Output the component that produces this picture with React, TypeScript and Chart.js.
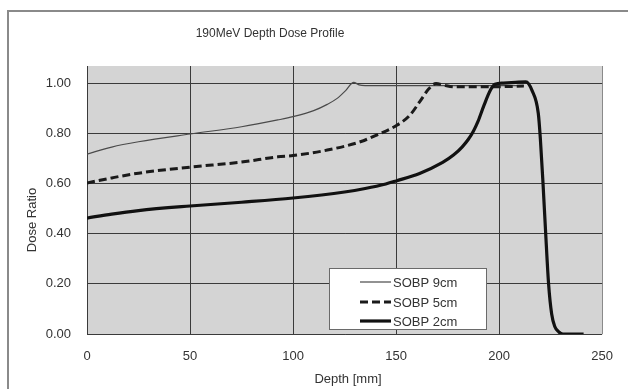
import React, { useEffect, useRef } from "react";
import { Chart, registerables } from "chart.js";

Chart.register(...registerables);

const TITLE = "190MeV Depth Dose Profile";
const X_TITLE = "Depth [mm]";
const Y_TITLE = "Dose Ratio";
const SERIES_NAMES = ["SOBP 9cm", "SOBP 5cm", "SOBP 2cm"];

const X_TICKS = [0, 50, 100, 150, 200, 250];
const Y_TICKS = [0, 0.2, 0.4, 0.6, 0.8, 1.0];

// SOBP 9cm (thin line)
const depth9 = [0, 12, 25, 50, 75, 92.6, 100, 110, 116.6, 121.4, 125.5, 129.4, 132, 135, 160, 180, 200, 212];
const dose9 = [0.717, 0.745, 0.766, 0.797, 0.826, 0.853, 0.866, 0.89, 0.915, 0.939, 0.97, 1.003, 0.993, 0.99, 0.99, 0.99, 0.99, 0.99];

// SOBP 5cm (dashed line)
const depth5 = [0, 12, 25, 50, 75, 92.6, 100, 116.6, 132.6, 140.6, 150, 156.6, 161.5, 166, 169.4, 173, 178, 196, 212];
const dose5 = [0.602, 0.622, 0.641, 0.665, 0.685, 0.706, 0.711, 0.733, 0.766, 0.793, 0.83, 0.871, 0.926, 0.978, 0.998, 0.992, 0.985, 0.985, 0.988];

// SOBP 2cm (thick line)
const depth2 = [0, 12, 25, 50, 75, 100, 125, 135, 145, 150, 161.4, 172.6, 178, 182, 185, 187.5, 189.8, 192.6, 195.8, 198, 202, 208, 213, 216, 219, 220, 221.3, 222.6, 224, 225.5, 227, 229, 231, 241];
const dose2 = [0.462, 0.478, 0.492, 0.51, 0.525, 0.542, 0.566, 0.58, 0.598, 0.61, 0.64, 0.684, 0.714, 0.745, 0.775, 0.808, 0.848, 0.91, 0.972, 0.995, 1.0, 1.003, 1.005, 0.97, 0.88, 0.78, 0.6, 0.4, 0.2, 0.08, 0.03, 0.008, 0.0, 0.0];

const FONT = "'Liberation Sans', Arial, sans-serif";
const TEXT_COLOR = "#333333";
const GRID_COLOR = "#3a3a3a";
const PLOT_BG = "#d4d4d4";

const toPoints = (xs: number[], ys: number[]) => xs.map((x, i) => ({ x, y: ys[i] }));

export default function App() {
  const canvasRef = useRef<HTMLCanvasElement | null>(null);

  useEffect(() => {
    const canvas = canvasRef.current;
    if (!canvas) return;

    const decor = {
      id: "decor",
      beforeDraw(chart: any) {
        const { ctx, chartArea, width, height } = chart;
        ctx.save();
        ctx.fillStyle = "#ffffff";
        ctx.fillRect(0, 0, width, height);
        ctx.strokeStyle = "#8a8a8a";
        ctx.lineWidth = 2;
        ctx.strokeRect(8, 11, width + 20, height + 20);
        ctx.fillStyle = PLOT_BG;
        ctx.fillRect(chartArea.left, chartArea.top, chartArea.right - chartArea.left, chartArea.bottom - chartArea.top);
        ctx.restore();
      },
      afterDraw(chart: any) {
        const { ctx } = chart;
        ctx.save();
        ctx.fillStyle = TEXT_COLOR;
        ctx.textAlign = "center";
        ctx.textBaseline = "middle";
        ctx.font = `12px ${FONT}`;
        ctx.fillText(TITLE, 270, 34);
        ctx.font = `13px ${FONT}`;
        ctx.fillText(X_TITLE, 348, 379);
        ctx.translate(32, 220);
        ctx.rotate(-Math.PI / 2);
        ctx.fillText(Y_TITLE, 0, 0);
        ctx.restore();

        // legend
        ctx.save();
        ctx.fillStyle = "#ffffff";
        ctx.fillRect(329, 268, 157, 61);
        ctx.strokeStyle = "#6a6a6a";
        ctx.lineWidth = 1;
        ctx.strokeRect(329.5, 268.5, 157, 61);
        const rows = [282, 302, 321];
        chart.data.datasets.forEach((ds: any, i: number) => {
          const y = rows[i];
          ctx.beginPath();
          ctx.strokeStyle = ds.borderColor;
          ctx.lineWidth = ds.borderWidth;
          ctx.setLineDash(ds.borderDash || []);
          ctx.moveTo(360, y);
          ctx.lineTo(391, y);
          ctx.stroke();
          ctx.setLineDash([]);
          ctx.fillStyle = TEXT_COLOR;
          ctx.font = `13px ${FONT}`;
          ctx.textAlign = "left";
          ctx.textBaseline = "middle";
          ctx.fillText(ds.label, 393, y + 1);
        });
        ctx.restore();
      },
    };

    const chart = new Chart(canvas, {
      type: "line",
      data: {
        datasets: [
          {
            label: SERIES_NAMES[0],
            data: toPoints(depth9, dose9),
            borderColor: "#4a4a4a",
            borderWidth: 1.2,
            pointRadius: 0,
            cubicInterpolationMode: "monotone",
            order: 2,
          },
          {
            label: SERIES_NAMES[1],
            data: toPoints(depth5, dose5),
            borderColor: "#1a1a1a",
            borderWidth: 3,
            borderDash: [8, 4],
            pointRadius: 0,
            cubicInterpolationMode: "monotone",
            order: 1,
          },
          {
            label: SERIES_NAMES[2],
            data: toPoints(depth2, dose2),
            borderColor: "#111111",
            borderWidth: 3.2,
            pointRadius: 0,
            cubicInterpolationMode: "monotone",
            order: 0,
          },
        ],
      },
      options: {
        animation: false,
        responsive: false,
        maintainAspectRatio: false,
        devicePixelRatio: 1,
        layout: { padding: { left: 0, top: 66, right: 20, bottom: 0 } },
        plugins: {
          legend: { display: false },
          title: { display: false },
          tooltip: { enabled: false },
        },
        scales: {
          x: {
            type: "linear",
            min: 0,
            max: 250,
            afterBuildTicks: (s: any) => {
              s.ticks = X_TICKS.map((v) => ({ value: v }));
            },
            afterFit: (s: any) => {
              s.height = 55;
            },
            ticks: {
              padding: 15,
              color: TEXT_COLOR,
              font: { family: FONT, size: 13 },
              maxRotation: 0,
              callback: (v: any) => String(v),
            },
            grid: {
              drawTicks: false,
              color: (c: any) => (c.tick && c.tick.value === 250 ? "#8a8a8a" : GRID_COLOR),
              lineWidth: 1,
            },
            border: { display: false },
          },
          y: {
            type: "linear",
            min: 0,
            max: 1.068,
            afterBuildTicks: (s: any) => {
              s.ticks = Y_TICKS.map((v) => ({ value: v }));
            },
            afterFit: (s: any) => {
              s.width = 87;
            },
            ticks: {
              padding: 16,
              color: TEXT_COLOR,
              font: { family: FONT, size: 13 },
              callback: (v: any) => Number(v).toFixed(2),
            },
            grid: {
              drawTicks: false,
              color: GRID_COLOR,
              lineWidth: 1,
            },
            border: { display: true, color: GRID_COLOR, width: 1 },
          },
        },
      },
      plugins: [decor],
    } as any);

    return () => chart.destroy();
  }, []);

  return (
    <div style={{ position: "fixed", left: 0, top: 0, width: 628, height: 389 }}>
      <canvas ref={canvasRef} width={628} height={389} style={{ width: 628, height: 389, display: "block" }} />
    </div>
  );
}
